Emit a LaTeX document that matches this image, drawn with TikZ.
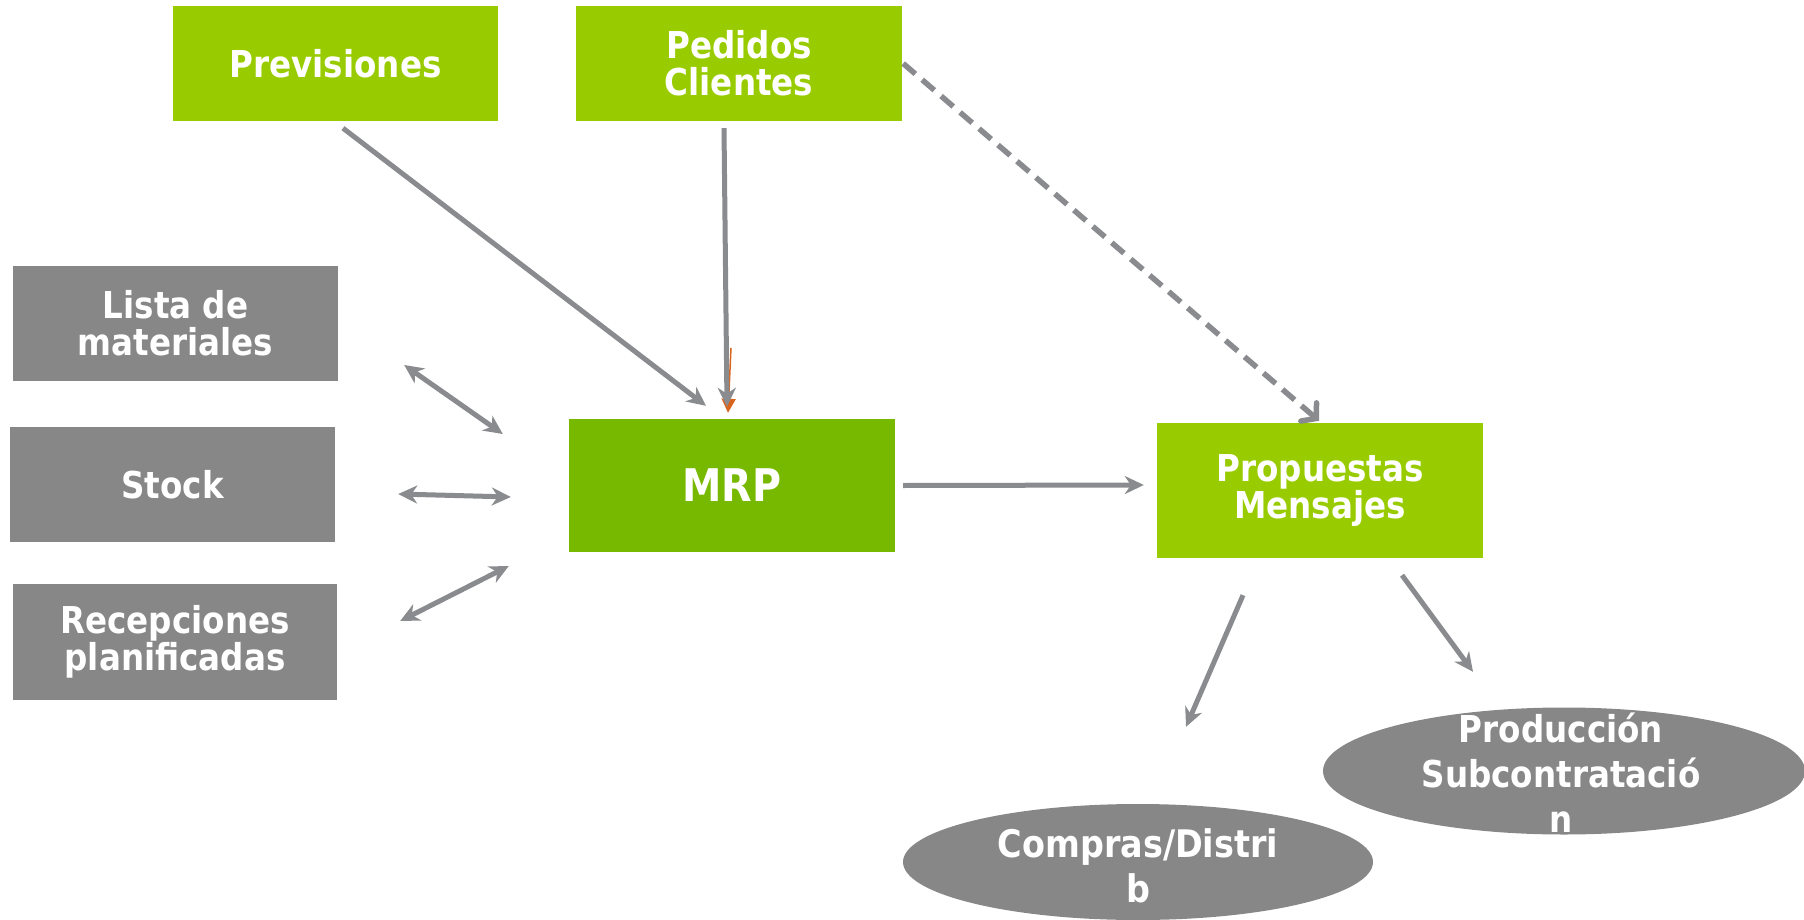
\documentclass[tikz,border=0pt]{standalone}
\usepackage{fontspec}
\newfontfamily\lab{DejaVu Sans}[FakeStretch=0.88]
\usetikzlibrary{arrows.meta,calc,shapes.geometric}
\definecolor{lgreen}{HTML}{99CC00}
\definecolor{dgreen}{HTML}{77B900}
\definecolor{boxgray}{HTML}{878787}
\definecolor{argray}{HTML}{898B8E}
\definecolor{orng}{HTML}{D9641E}
\tikzset{
  gbox/.style={rectangle, fill=lgreen, text=white, minimum width=325pt, minimum height=115pt, inner sep=0pt, align=center, font=\lab\bfseries\fontsize{37}{37}\selectfont},
  graybox/.style={gbox, fill=boxgray},
  mrpbox/.style={gbox, fill=dgreen, minimum height=133pt, font=\lab\bfseries\fontsize{45}{46}\selectfont},
  oval/.style={ellipse, fill=boxgray, inner sep=0pt},
  ovaltext/.style={text=white, inner sep=0pt, align=center, font=\lab\bfseries\fontsize{38}{45}\selectfont},
  conn/.style={draw=argray, line width=5pt, -{Stealth[length=19pt,width=18pt,inset=6pt]}},
  biconn/.style={draw=argray, line width=5pt, {Stealth[length=19pt,width=18pt,inset=6pt]}-{Stealth[length=19pt,width=18pt,inset=6pt]}},
  dconn/.style={draw=argray, line width=5.5pt, dash pattern=on 16pt off 9pt, -{Straight Barb[length=10pt,width=24pt,line cap=round]}},
}
\begin{document}
\begin{tikzpicture}[x=1pt,y=-1pt]
\useasboundingbox (0,0) rectangle (1804,920);
\clip (0,0) rectangle (1804,920);
\node[gbox] (prev) at (335.5,63.5) {Previsiones};
\node[gbox, minimum width=326pt] (ped) at (739,63.5) {Pedidos\\Clientes};
\node[graybox] (lista) at (175.5,323.5) {Lista de\\materiales};
\node[graybox] (stock) at (172.5,484.5) {Stock};
\node[graybox, minimum width=324pt, minimum height=116pt] (recep) at (175,642) {Recepciones\\planificadas};
\node[mrpbox, minimum width=326pt] (mrp) at (732,485.5) {MRP};
\node[gbox, minimum width=326pt, minimum height=135pt] (prop) at (1320,490.5) {Propuestas\\Mensajes};
\node[oval, minimum width=470pt, minimum height=116pt] (comp) at (1138,862) {};
\node[ovaltext] (compt) at ($(comp.center)+(0,4)$) {Compras/Distri\\b};
\node[oval, minimum width=482pt, minimum height=127pt] (prod) at (1564,771) {};
\node[ovaltext, font=\lab\bfseries\fontsize{37}{45}\selectfont] (prodt) at ($(prod.center)+(-3,2)$) {Producción\\Subcontratació\\n};
% connectors
\draw[conn] ($(prev.south)+(7.5,7)$) -- ($(mrp.north)+(-26,-13)$);
\draw[draw=orng, line width=1.5pt, -{Triangle[length=14pt,width=14pt]}, color=orng] ($(mrp.north)+(-1,-71)$) -- ($(mrp.north)+(-4,-6)$);
\draw[conn] ($(ped.south)+(-15,7)$) -- ($(mrp.north)+(-5,-12)$);
\draw[dconn] ($(ped.east)+(1,0)$) -- ($(prop.north)+(-1,-2)$);
\draw[conn] ($(mrp.east)+(8,0)$) -- ($(prop.west)+(-13,-5.5)$);
\draw[biconn] ($(lista.east)+(66,41.5)$) -- ($(mrp.west)+(-66,-51.5)$);
\draw[biconn] ($(stock.east)+(63,9.5)$) -- ($(mrp.west)+(-58,11.5)$);
\draw[biconn] ($(recep.east)+(63,-21)$) -- ($(mrp.west)+(-60,80.5)$);
\draw[conn] ($(prop.south)+(-77,37)$) -- ($(comp.north)+(48,-77)$);
\draw[conn] ($(prop.south)+(82,17)$) -- ($(prod.north)+(-91,-35.5)$);
\end{tikzpicture}
\end{document}
